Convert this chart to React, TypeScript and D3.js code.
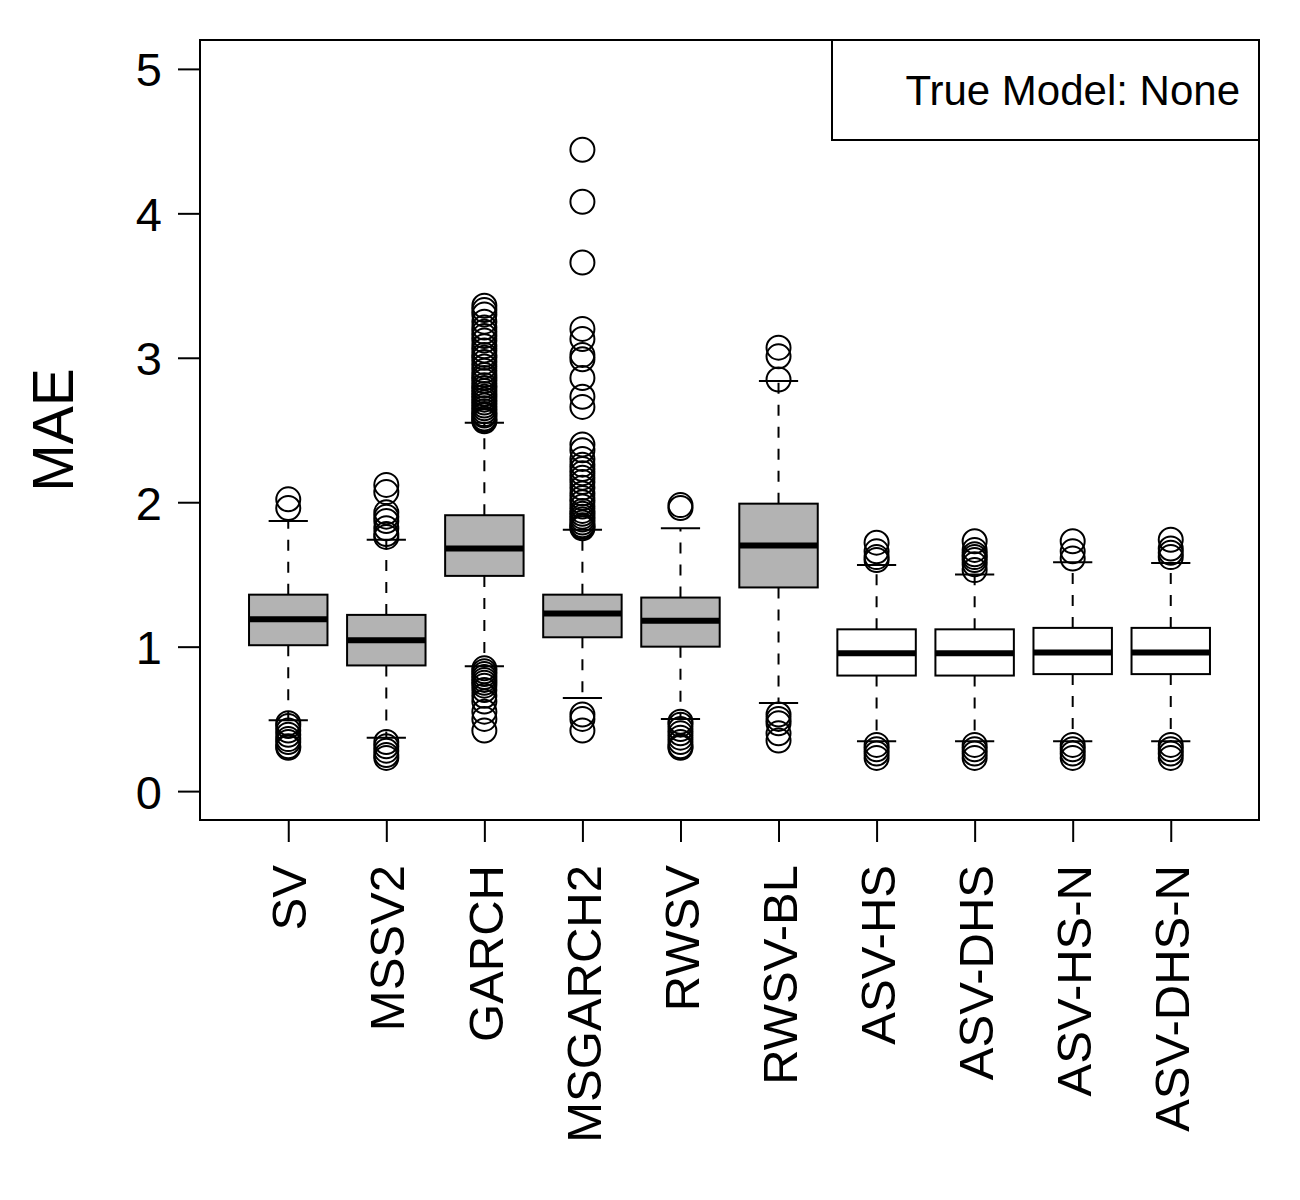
import * as d3 from "d3";
import React, { useEffect, useRef } from "react";

// model names on the x axis
const models = [
  "SV",
  "MSSV2",
  "GARCH",
  "MSGARCH2",
  "RWSV",
  "RWSV-BL",
  "ASV-HS",
  "ASV-DHS",
  "ASV-HS-N",
  "ASV-DHS-N",
];

// box statistics
const lowerWhisker = [0.49, 0.37, 0.865, 0.645, 0.5, 0.61, 0.345, 0.345, 0.345, 0.345];
const q1 = [1.01, 0.87, 1.49, 1.065, 1.0, 1.41, 0.8, 0.8, 0.81, 0.81];
const medians = [1.19, 1.045, 1.68, 1.23, 1.18, 1.7, 0.955, 0.955, 0.96, 0.96];
const q3 = [1.36, 1.22, 1.91, 1.36, 1.34, 1.99, 1.12, 1.12, 1.13, 1.13];
const upperWhisker = [1.87, 1.74, 2.55, 1.81, 1.82, 2.84, 1.565, 1.5, 1.585, 1.58];

// outliers per model
const outliers: number[][] = [
  [2.02, 1.96, 0.47, 0.45, 0.42, 0.39, 0.36, 0.34, 0.31, 0.3],
  [2.12, 2.07, 1.93, 1.9, 1.87, 1.82, 1.78, 1.76, 0.34, 0.31, 0.28, 0.25, 0.23],
  [
    3.36, 3.33, 3.3, 3.25, 3.21, 3.18, 3.15, 3.12, 3.08, 3.05, 3.02, 3.0, 2.97,
    2.94, 2.91, 2.88, 2.86, 2.84, 2.81, 2.79, 2.77, 2.75, 2.73, 2.71, 2.69, 2.67,
    2.65, 2.63, 2.61, 2.6, 2.58, 2.57, 2.56, 0.85, 0.83, 0.81, 0.79, 0.77, 0.75,
    0.73, 0.7, 0.66, 0.62, 0.55, 0.5, 0.42,
  ],
  [
    4.44, 4.08, 3.66, 3.2, 3.13, 3.02, 2.99, 2.86, 2.73, 2.66, 2.4, 2.36, 2.3,
    2.26, 2.23, 2.2, 2.17, 2.14, 2.1, 2.06, 2.03, 2.0, 1.97, 1.94, 1.92, 1.9,
    1.88, 1.86, 1.84, 1.83, 1.82, 0.53, 0.5, 0.42,
  ],
  [1.98, 1.96, 0.48, 0.46, 0.43, 0.4, 0.37, 0.34, 0.31, 0.3],
  [3.07, 3.01, 2.85, 0.53, 0.5, 0.47, 0.4, 0.35],
  [1.72, 1.66, 1.62, 1.6, 0.32, 0.29, 0.26, 0.23],
  [1.73, 1.67, 1.64, 1.62, 1.6, 1.57, 1.53, 0.32, 0.29, 0.26, 0.23],
  [1.73, 1.66, 1.61, 0.32, 0.29, 0.26, 0.23],
  [1.74, 1.68, 1.65, 1.62, 0.32, 0.29, 0.26, 0.23],
];

const boxFill = ["#b3b3b3", "#b3b3b3", "#b3b3b3", "#b3b3b3", "#b3b3b3", "#b3b3b3", "#ffffff", "#ffffff", "#ffffff", "#ffffff"];
const yTicks = [0, 1, 2, 3, 4, 5];
const legendText = "True Model: None";
const yLabel = "MAE";

export default function App() {
  const ref = useRef<SVGSVGElement>(null);

  useEffect(() => {
    const svg = d3.select(ref.current);
    svg.selectAll("*").remove();
    const font = "'Liberation Sans', Arial, Helvetica, sans-serif";

    const left = 200, right = 1259, top = 40, bottom = 820;
    const x = d3.scaleLinear().domain([0.1, 10.9]).range([left, right]);
    const y = d3.scaleLinear().domain([-0.2, 5.2]).range([bottom, top]);
    const unit = x(2) - x(1);
    const half = unit * 0.4;
    const stapleHalf = half / 2;

    const data = models.map((m, i) => ({
      name: m,
      pos: i + 1,
      lo: lowerWhisker[i],
      q1: q1[i],
      med: medians[i],
      q3: q3[i],
      hi: upperWhisker[i],
      out: outliers[i],
      fill: boxFill[i],
    }));

    const g = svg.append("g");

    // whiskers
    g.selectAll(".whisk-up")
      .data(data)
      .enter()
      .append("line")
      .attr("x1", (d) => x(d.pos))
      .attr("x2", (d) => x(d.pos))
      .attr("y1", (d) => y(d.q3))
      .attr("y2", (d) => y(d.hi))
      .attr("stroke", "#000")
      .attr("stroke-width", 2)
      .attr("stroke-dasharray", "11,11");
    g.selectAll(".whisk-lo")
      .data(data)
      .enter()
      .append("line")
      .attr("x1", (d) => x(d.pos))
      .attr("x2", (d) => x(d.pos))
      .attr("y1", (d) => y(d.q1))
      .attr("y2", (d) => y(d.lo))
      .attr("stroke", "#000")
      .attr("stroke-width", 2)
      .attr("stroke-dasharray", "11,11");

    // staples
    ["hi", "lo"].forEach((k) => {
      g.selectAll(".staple-" + k)
        .data(data)
        .enter()
        .append("line")
        .attr("x1", (d) => x(d.pos) - stapleHalf)
        .attr("x2", (d) => x(d.pos) + stapleHalf)
        .attr("y1", (d: any) => y(d[k]))
        .attr("y2", (d: any) => y(d[k]))
        .attr("stroke", "#000")
        .attr("stroke-width", 2);
    });

    // boxes
    g.selectAll(".box")
      .data(data)
      .enter()
      .append("rect")
      .attr("x", (d) => x(d.pos) - half)
      .attr("width", half * 2)
      .attr("y", (d) => y(d.q3))
      .attr("height", (d) => y(d.q1) - y(d.q3))
      .attr("fill", (d) => d.fill)
      .attr("stroke", "#000")
      .attr("stroke-width", 2);

    // medians
    g.selectAll(".med")
      .data(data)
      .enter()
      .append("line")
      .attr("x1", (d) => x(d.pos) - half)
      .attr("x2", (d) => x(d.pos) + half)
      .attr("y1", (d) => y(d.med))
      .attr("y2", (d) => y(d.med))
      .attr("stroke", "#000")
      .attr("stroke-width", 6);

    // outliers
    const pts = data.flatMap((d) => d.out.map((v) => ({ pos: d.pos, v })));
    g.selectAll(".out")
      .data(pts)
      .enter()
      .append("circle")
      .attr("cx", (d) => x(d.pos))
      .attr("cy", (d) => y(d.v))
      .attr("r", 12)
      .attr("fill", "none")
      .attr("stroke", "#000")
      .attr("stroke-width", 2);

    // frame
    svg
      .append("rect")
      .attr("x", left)
      .attr("y", top)
      .attr("width", right - left)
      .attr("height", bottom - top)
      .attr("fill", "none")
      .attr("stroke", "#000")
      .attr("stroke-width", 2);

    // y axis
    const yAxis = svg
      .append("g")
      .attr("transform", `translate(${left}, 0)`)
      .call(d3.axisLeft(y).tickValues(yTicks).tickSize(22).tickPadding(16).tickFormat(d3.format("d")));
    yAxis.select(".domain").remove();
    yAxis.selectAll("line").attr("stroke", "#000").attr("stroke-width", 2);
    yAxis
      .selectAll("text")
      .attr("font-family", font)
      .attr("font-size", 47)
      .attr("fill", "#000")
      .attr("dy", "0.36em");

    // x axis
    const xAxis = svg
      .append("g")
      .attr("transform", `translate(0, ${bottom})`)
      .call(
        d3
          .axisBottom(x)
          .tickValues(models.map((_, i) => i + 1))
          .tickSize(22)
          .tickFormat((d: any) => models[d - 1])
      );
    xAxis.select(".domain").remove();
    xAxis.selectAll("line").attr("stroke", "#000").attr("stroke-width", 2);
    xAxis
      .selectAll("text")
      .attr("font-family", font)
      .attr("font-size", 49)
      .attr("fill", "#000")
      .attr("text-anchor", "end")
      .attr("transform", "translate(0, 45) rotate(-90)")
      .attr("x", 0)
      .attr("y", 0)
      .attr("dy", "0.36em");

    // y label
    svg
      .append("text")
      .text(yLabel)
      .attr("font-family", font)
      .attr("font-size", 57)
      .attr("text-anchor", "middle")
      .attr("transform", `translate(73, ${(top + bottom) / 2}) rotate(-90)`)
      .attr("fill", "#000");

    // legend
    svg
      .append("rect")
      .attr("x", 832)
      .attr("y", top)
      .attr("width", right - 832)
      .attr("height", 100)
      .attr("fill", "#fff")
      .attr("stroke", "#000")
      .attr("stroke-width", 2);
    svg
      .append("text")
      .text(legendText)
      .attr("font-family", font)
      .attr("font-size", 42)
      .attr("text-anchor", "end")
      .attr("x", 1240)
      .attr("y", 105)
      .attr("fill", "#000");
  }, []);

  return (
    <div style={{ position: "absolute", left: 0, top: 0 }}>
      <svg ref={ref} width={1300} height={1200} style={{ display: "block", background: "#fff" }}></svg>
    </div>
  );
}
